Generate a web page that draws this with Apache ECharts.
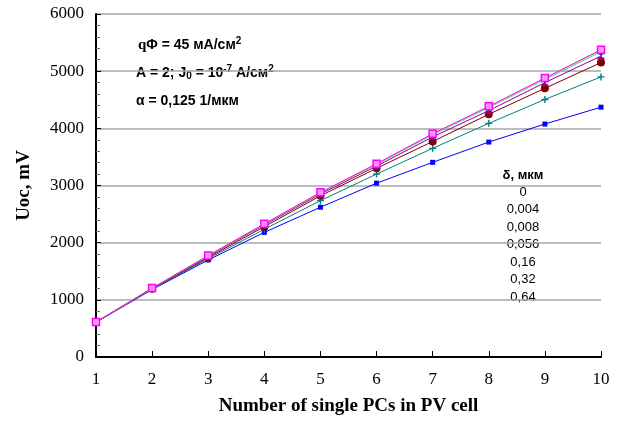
<!DOCTYPE html>
<html><head><meta charset="utf-8">
<script src="https://cdn.jsdelivr.net/npm/echarts@6/dist/echarts.min.js"></script>
<style>html,body{margin:0;padding:0;background:#fff}#c{width:621px;height:423px}</style>
</head><body><div id="c"></div>
<script>
const xCats = [1,2,3,4,5,6,7,8,9,10];
const yTicks = [0,1000,2000,3000,4000,5000,6000];
const deltas = ['0','0,004','0,008','0,056','0,16','0,32','0,64'];
const s0    = [612,1205,1775,2330,2880,3380,3905,4385,4880,5375];
const s004  = [612,1204,1773,2327,2875,3375,3898,4375,4870,5360];
const s008  = [612,1203,1770,2322,2868,3368,3888,4362,4855,5340];
const s056  = [611,1200,1760,2310,2850,3340,3850,4310,4800,5265];
const s16   = [610,1196,1740,2280,2820,3300,3770,4245,4700,5150];
const s32   = [610,1190,1720,2235,2735,3200,3650,4087,4505,4900];
const s64   = [607,1180,1697,2180,2620,3040,3405,3760,4075,4370];

const seriesData = [s0,s004,s008,s056,s16,s32,s64];
const colors = ['#ff00ff','#e8e000','#00e0e0','#900090','#800000','#008080','#0000ff'];
const symbols = ['rect','triangle',
  'path://M0,0 L2,0 L5,3 L8,0 L10,0 L6,5 L10,10 L8,10 L5,7 L2,10 L0,10 L4,5 Z',
  'path://M0,0 L10,0 L10,2 L6,4 L6,6 L10,8 L10,10 L0,10 L0,8 L4,6 L4,4 L0,2 Z',
  'circle',
  'path://M4,0 L6,0 L6,4 L10,4 L10,6 L6,6 L6,10 L4,10 L4,6 L0,6 L0,4 L4,4 Z',
  'rect'];
const sizes = [7,6,6,7,8,7,5];
const fills = ['#ff99ff','#ffff00','#00ffff','#900090','#800000','#008080','#0000ff'];

const chart = echarts.init(document.getElementById('c'));
const series = seriesData.map((d,i)=>({
  name: deltas[i], type:'line', data: d.map((v,j)=>[xCats[j],v]),
  symbol: symbols[i], symbolSize: sizes[i], showSymbol:true,
  lineStyle:{color:colors[i], width:1},
  itemStyle:{color:fills[i], borderColor:colors[i], borderWidth: i===0?1.5:0},
  z: 10 - i, animation:false
}));

const legendGraphics = [{type:'text', x:523, y:175, style:{text:'δ, мкм', font:'bold 13px "Liberation Sans", Arial', fill:'#000', align:'center', verticalAlign:'middle'}}]
  .concat(deltas.map((d,i)=>({type:'text', x:523, y:192+i*17.5, style:{text:d, font:'13px "Liberation Sans", Arial', fill:'#000', align:'center', verticalAlign:'middle'}})));

chart.setOption({
  animation:false,
  backgroundColor:'#fff',
  grid:{left:96, right:20, top:14, bottom:66, containLabel:false},
  xAxis:{type:'value', min:1, max:10, interval:1,
    name:'Number of single PCs in PV cell', nameLocation:'middle', nameGap:40,
    nameTextStyle:{fontFamily:'"Liberation Serif", "Times New Roman", serif', fontWeight:'bold', fontSize:19, color:'#000'},
    axisLine:{show:true, onZero:false, lineStyle:{color:'#000', width:2}},
    axisTick:{show:true, inside:true, length:6, lineStyle:{color:'#000', width:1}},
    axisLabel:{fontFamily:'"Liberation Serif", "Times New Roman", serif', fontSize:17, color:'#000', margin:14},
    splitLine:{show:false}},
  yAxis:{type:'value', min:0, max:6000, interval:1000,
    name:'Uoc, mV', nameLocation:'middle', nameGap:62,
    nameTextStyle:{fontFamily:'"Liberation Serif", "Times New Roman", serif', fontWeight:'bold', fontSize:19, color:'#000'},
    axisLine:{show:true, lineStyle:{color:'#000', width:2}},
    axisTick:{show:true, inside:true, length:5, lineStyle:{color:'#000', width:1}},
    minorTick:{show:true, splitNumber:5, length:4, lineStyle:{color:'#666', width:1}},
    axisLabel:{fontFamily:'"Liberation Serif", "Times New Roman", serif', fontSize:17, color:'#000', margin:12,
      formatter: v => yTicks.includes(v) ? String(v) : ''},
    splitLine:{show:true, lineStyle:{color:'#a6a6a6', width:1.5}}},
  graphic: legendGraphics.concat([
    {type:'text', x:138, y:45, style:{
      text:'{q|q}{b|Φ = 45 мА/см}{s|2}',
      rich:{q:{font:'bold 15px "Liberation Serif", serif', fill:'#000'},
            b:{font:'bold 14px "Liberation Sans", Arial', fill:'#000'},
            s:{font:'bold 10px "Liberation Sans", Arial', fill:'#000', padding:[0,0,7,0]}},
      verticalAlign:'middle'}},
    {type:'text', x:136, y:73, style:{
      text:'{b|A = 2; J}{sub|0}{b| = 10}{s|-7}{b| A/см}{s|2}',
      rich:{b:{font:'bold 14px "Liberation Sans", Arial', fill:'#000'},
            sub:{font:'bold 10px "Liberation Sans", Arial', fill:'#000', padding:[7,0,0,0]},
            s:{font:'bold 10px "Liberation Sans", Arial', fill:'#000', padding:[0,0,7,0]}},
      verticalAlign:'middle'}},
    {type:'text', x:136, y:101, style:{
      text:'α = 0,125 1/мкм', font:'bold 14px "Liberation Sans", Arial', fill:'#000', verticalAlign:'middle'}}
  ]),
  series: series
});
</script></body></html>
